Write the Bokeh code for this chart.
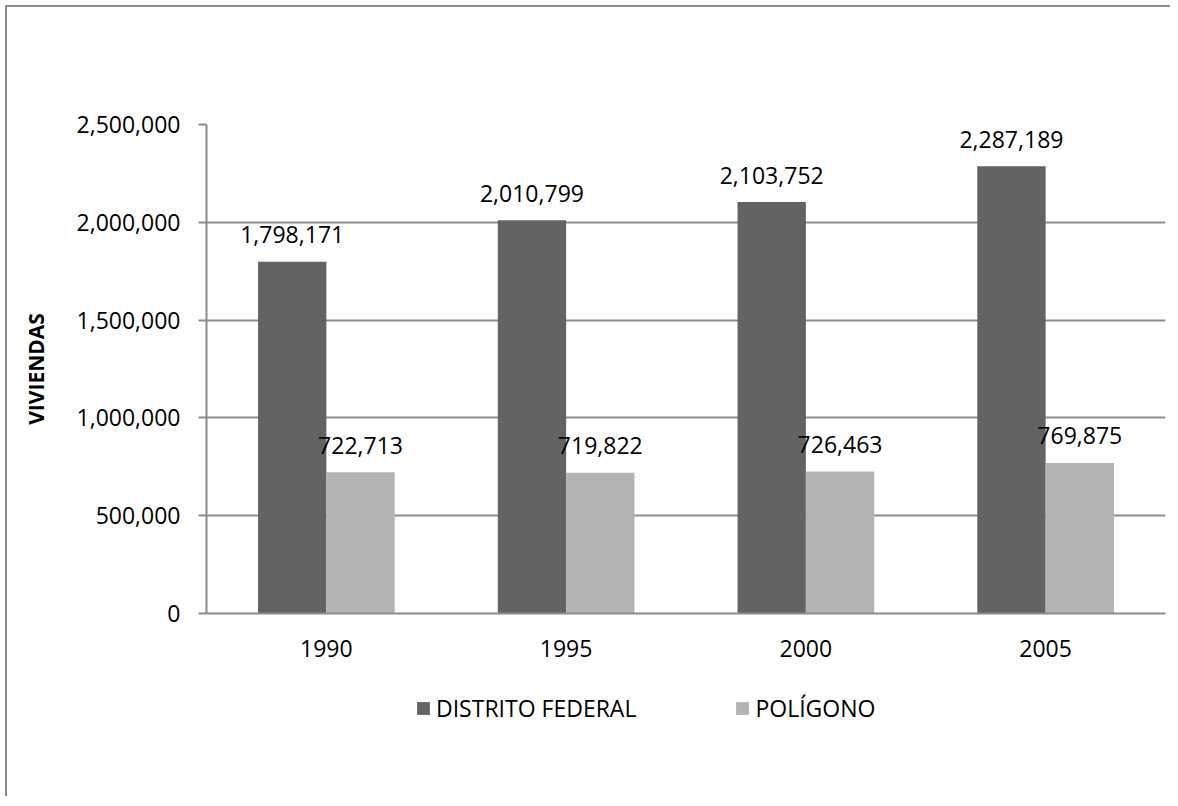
from bokeh.plotting import figure
from bokeh.layouts import column
from bokeh.models import ColumnDataSource, FactorRange, Range1d, NumeralTickFormatter, LabelSet, Legend, LegendItem, SingleIntervalTicker
from bokeh.transform import dodge
from bokeh.core.properties import value
from bokeh.embed import file_html
from bokeh.resources import INLINE

years = ["1990", "1995", "2000", "2005"]
distrito_federal = [1798171, 2010799, 2103752, 2287189]
poligono = [722713, 719822, 726463, 769875]
series_names = ["DISTRITO FEDERAL", "POLÍGONO"]

FONT = "Open Sans"
FS = "23px"
DARK = "#636363"
LIGHT = "#b3b3b3"
GRID = "#8c8c8c"
BORDER = "2px solid #8c8c8c"

src = ColumnDataSource(dict(
    year=years,
    df=distrito_federal,
    pol=poligono,
    df_lbl=[f"{v:,}" for v in distrito_federal],
    pol_lbl=[f"{v:,}" for v in poligono],
))

p = figure(
    x_range=FactorRange(*years, range_padding=0),
    y_range=Range1d(0, 2500000),
    width=1165, height=666,
    output_backend="svg", toolbar_location=None,
    min_border_left=199, min_border_right=7, min_border_top=117, min_border_bottom=60,
    styles={"border-left": BORDER, "border-top": BORDER,
            "margin-left": "5px", "margin-top": "5px"},
)
p.outline_line_color = None
p.background_fill_color = "white"
p.border_fill_color = "white"

bw = 0.285
r1 = p.vbar(x=dodge("year", -bw / 2, range=p.x_range), top="df", width=bw, source=src,
            fill_color=DARK, line_color=None)
r2 = p.vbar(x=dodge("year", bw / 2, range=p.x_range), top="pol", width=bw, source=src,
            fill_color=LIGHT, line_color=None)

for col, off in (("df", -bw / 2), ("pol", bw / 2)):
    lbl = LabelSet(x=dodge("year", off, range=p.x_range), y=col, text=col + "_lbl", source=src,
                   text_align="center", text_baseline="middle", y_offset=27,
                   text_font=value(FONT), text_font_size=FS, text_color="#000000")
    p.add_layout(lbl)

# axes
p.yaxis.ticker = SingleIntervalTicker(interval=500000)
p.yaxis.formatter = NumeralTickFormatter(format="0,0")
p.yaxis.axis_line_color = GRID
p.yaxis.axis_line_width = 2
p.yaxis.major_tick_line_color = GRID
p.yaxis.major_tick_line_width = 2
p.yaxis.major_tick_out = 8
p.yaxis.major_tick_in = 0
p.yaxis.minor_tick_line_color = None
p.yaxis.major_label_standoff = 18
p.yaxis.major_label_text_font = FONT
p.yaxis.major_label_text_font_size = FS
p.yaxis.major_label_text_color = "#000000"
p.yaxis.axis_label = "VIVIENDAS"
p.yaxis.axis_label_text_font = FONT
p.yaxis.axis_label_text_font_style = "bold"
p.yaxis.axis_label_text_font_size = "21px"
p.yaxis.axis_label_text_color = "#000000"
p.yaxis.axis_label_standoff = 24

p.xaxis.axis_line_color = GRID
p.xaxis.axis_line_width = 2
p.xaxis.major_tick_line_color = None
p.xaxis.minor_tick_line_color = None
p.xaxis.major_label_standoff = 20
p.xaxis.major_label_text_font = FONT
p.xaxis.major_label_text_font_size = FS
p.xaxis.major_label_text_color = "#000000"

p.xgrid.grid_line_color = None
p.ygrid.grid_line_color = GRID
p.ygrid.grid_line_width = 2

# legend panel below the chart: its bars lie below its visible y range, only the legend shows
pl = figure(
    x_range=Range1d(0, 2500000), y_range=Range1d(2500000, 3000000),
    width=1165, height=125,
    output_backend="svg", toolbar_location=None,
    x_axis_type=None, y_axis_type=None,
    min_border=0,
    styles={"border-left": BORDER, "margin-left": "5px"},
)
pl.outline_line_color = None
pl.grid.grid_line_color = None
pl.background_fill_color = "white"
pl.border_fill_color = "white"
lg1 = pl.vbar(x="df", top="df", width=1000, source=src, fill_color=DARK, line_color=None)
lg2 = pl.vbar(x="pol", top="pol", width=1000, source=src, fill_color=LIGHT, line_color=None)

legend = Legend(
    items=[LegendItem(label=series_names[0], renderers=[lg1], index=0),
           LegendItem(label=series_names[1], renderers=[lg2], index=0)],
    orientation="horizontal", location=(209, 72),
    glyph_width=16, glyph_height=16, label_standoff=5, spacing=98,
    padding=0, margin=0, border_line_color=None, background_fill_alpha=0,
    label_text_font=FONT, label_text_font_size=FS, label_text_color="#000000",
    label_height=24,
)
pl.add_layout(legend, "center")

layout = column(p, pl, spacing=0)
open("out.html", "w").write(file_html(layout, INLINE))
